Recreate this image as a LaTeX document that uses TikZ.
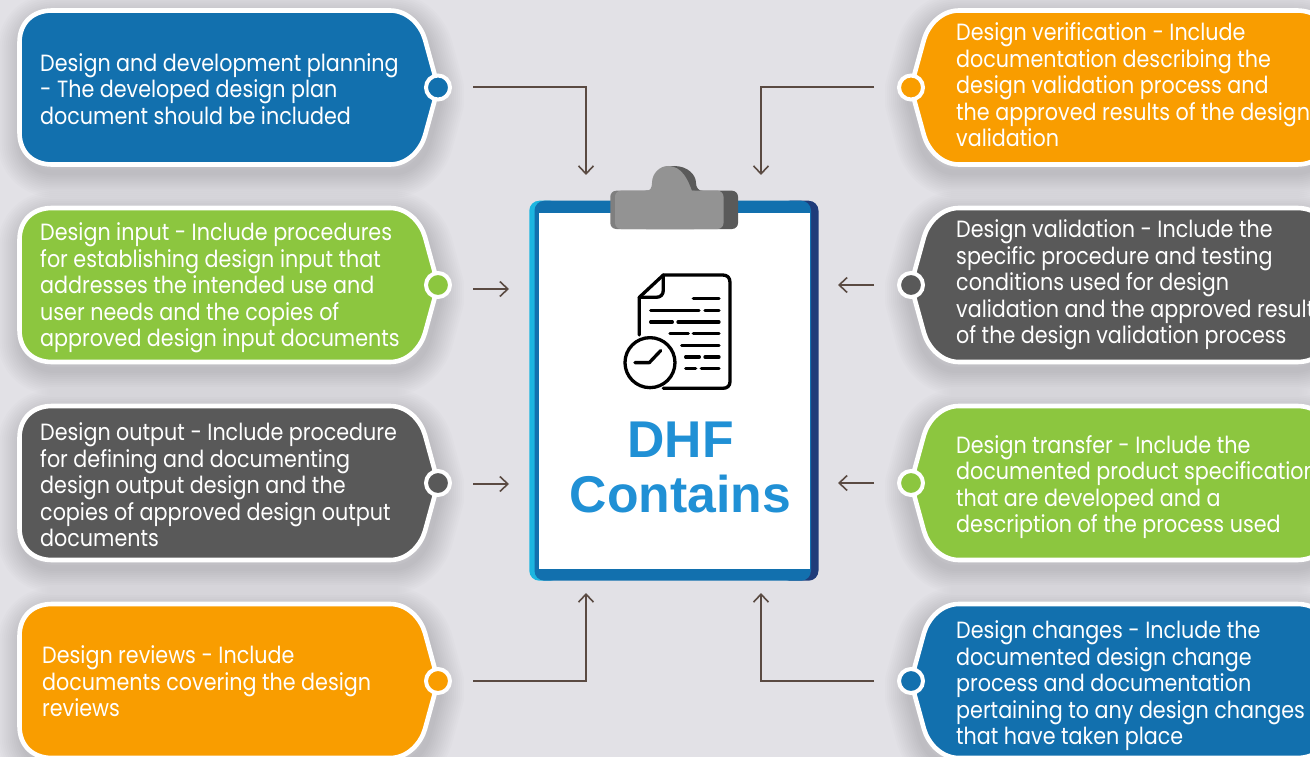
\documentclass[tikz,border=0pt]{standalone}
\usepackage{fontspec}
\setmainfont{Poppins}[FakeStretch=0.88]
\newfontfamily\headfont{Liberation Sans}
\usetikzlibrary{arrows.meta}
\definecolor{bgc}{HTML}{E2E1E6}
\definecolor{tagblue}{HTML}{1270AE}
\definecolor{taggreen}{HTML}{8CC63F}
\definecolor{taggrey}{HTML}{595959}
\definecolor{tagorange}{HTML}{F99D00}
\definecolor{linkc}{HTML}{5A4A42}
\definecolor{clipcyan}{HTML}{1CB5E0}
\definecolor{clipdark}{HTML}{1F3C7A}
\definecolor{gripl}{HTML}{939393}
\definecolor{gripm}{HTML}{7F7F7F}
\definecolor{gripd}{HTML}{5A5A5A}
\definecolor{headc}{HTML}{2090D5}
\newcommand\tagpath{(-418.5,-45) .. controls (-418.5,-65) and (-405,-77) .. (-386,-77) -- (-48,-77) .. controls (-30,-77) and (-17,-62) .. (-13,-48) -- (-2,-8) -- (-2,8) -- (-13,48) .. controls (-17,62) and (-30,77) .. (-48,77) -- (-386,77) .. controls (-405,77) and (-418.5,65) .. (-418.5,45) -- cycle}
\newcommand\tagbox[5]{%
  \begin{scope}[shift={(#2,#3)},xscale=#4]
    \begin{scope}[shift={(3,8)}]
      \foreach \w in {50,46,42,38,34,30,26,22,18,14,10,6}{
        \draw[black,opacity=.011,line width=\w pt,line join=round] \tagpath;
      }
    \end{scope}
    \draw[tagedge,fill=#5] \tagpath;
    \node[tagdot,fill=#5] (#1) at (0,0) {};
  \end{scope}}
\tikzset{
  x=1pt,y=-1pt,
  tagedge/.style={draw=white,line width=4.6pt,line join=round},
  tagdot/.style={circle,draw=white,line width=4pt,minimum size=24pt,inner sep=0pt},
  tagtext/.style={text=white,anchor=west,align=left,inner sep=0pt,font=\fontsize{23.5}{26.5}\selectfont},
  link/.style={draw=linkc,line width=1.6pt,-{Straight Barb[length=8pt,width=15pt,line width=1.6pt]}},
  docline/.style={line width=3.3pt,line cap=round,line join=round,draw=black},
}
\begin{document}
\begin{tikzpicture}
\useasboundingbox (0,0) rectangle (1310,757);
\clip (0,0) rectangle (1310,757);
\fill[bgc] (0,0) rectangle (1310,757);

% tags
\tagbox{dotA}{438}{87.5}{1}{tagblue}
\tagbox{dotB}{438}{285}{1}{taggreen}
\tagbox{dotC}{438}{483}{1}{taggrey}
\tagbox{dotD}{438}{681}{1}{tagorange}
\tagbox{dotE}{911}{87.5}{-1}{tagorange}
\tagbox{dotF}{911}{285}{-1}{taggrey}
\tagbox{dotG}{911}{483}{-1}{taggreen}
\tagbox{dotH}{911}{681}{-1}{tagblue}

% tag texts
\node[tagtext] (txtA) at (40,89) {Design and development planning\\- The developed design plan\\document should be included};
\node[tagtext] (txtB) at (40,288) {Design input - Include procedures\\for establishing design input that\\addresses the intended use and\\user needs and the copies of\\approved design input documents};
\node[tagtext] (txtC) at (40,485) {Design output - Include procedure\\for defining and documenting\\design output design and the\\copies of approved design output\\documents};
\node[tagtext] (txtD) at (42,681.5) {Design reviews - Include\\documents covering the design\\reviews};
\node[tagtext] (txtE) at (956,85) {Design verification - Include\\documentation describing the\\design validation process and\\the approved results of the design\\validation};
\node[tagtext] (txtF) at (956,285) {Design validation - Include the\\specific procedure and testing\\conditions used for design\\validation and the approved results\\of the design validation process};
\node[tagtext] (txtG) at (956,487) {Design transfer - Include the\\documented product specifications\\that are developed and a\\description of the process used};
\node[tagtext] (txtH) at (956,686) {Design changes - Include the\\documented design change\\process and documentation\\pertaining to any design changes\\that have taken place};

% clipboard
\fill[clipcyan,rounded corners=10pt] (529.3,200.7) rectangle (560,580.7);
\fill[clipdark,rounded corners=10pt] (780,200.7) rectangle (818.5,580.7);
\fill[tagblue,rounded corners=10pt] (534.5,200.7) rectangle (811,580.7);
\node[fill=white,inner sep=0pt,minimum width=271pt,minimum height=356.3pt,anchor=north west] (sheet) at (539,212.7) {};

% clip grip
\fill[gripd,rounded corners=6pt] (640,190.7) rectangle (738,229);
\fill[gripd] (652,191) .. controls (652,175) and (660,166) .. (674,166) .. controls (688,166) and (696,175) .. (696,183) .. controls (696,188) and (699,191) .. (703,191) -- cycle;
\fill[gripm,rounded corners=6pt] (610.3,190.7) rectangle (700,229);
\fill[gripl,rounded corners=6pt] (615,190.7) rectangle (723.5,229);
\fill[gripl] (646,191) .. controls (650,191) and (652,188) .. (652,183) .. controls (652,173) and (660,166) .. (668,166) .. controls (682,166) and (688,180) .. (692,191) -- cycle;

% document icon
\begin{scope}[shift={(520,150)},x=.3333pt,y=-.3333pt]
  \draw[docline] (358,555) -- (358,442) -- (430,375) -- (608,375) .. controls (622,375) and (630,383) .. (630,397) -- (630,695) .. controls (630,708) and (622,715) .. (608,715) -- (430,715);
  \draw[docline] (358,442) -- (408,442) .. controls (422,442) and (430,434) .. (430,420) -- (430,375);
  \draw[docline] (520,446) -- (597,446);
  \draw[docline] (392,481) -- (537,481) (555,481) -- (597,481);
  \draw[docline] (392,516) -- (457,516) (474,516) -- (597,516);
  \draw[docline] (450,551) -- (505,551) (520,551) -- (597,551);
  \draw[docline] (485,586) -- (597,586);
  \draw[docline] (497,621) -- (538,621) (555,621) -- (597,621);
  \draw[docline] (497,656) -- (527,656) (544,656) -- (597,656);
  \draw[docline,fill=white] (390,638) circle[radius=75];
  \draw[docline] (345,638) -- (388,638) -- (422,602);
\end{scope}

% heading
\node[text=headc,font=\headfont\bfseries\fontsize{51.7}{55}\selectfont,align=center,inner sep=0pt] (head) at (680.5,467) {DHF\\Contains};

% connectors
\coordinate (sA) at (473,87);   \coordinate (eA) at (586,175);
\coordinate (sE) at (874,87);   \coordinate (eE) at (761,175);
\coordinate (sB) at (473,289);  \coordinate (eB) at (509,289);
\coordinate (sF) at (874,285);  \coordinate (eF) at (838,285);
\coordinate (sC) at (473,484);  \coordinate (eC) at (509,484);
\coordinate (sG) at (874,483);  \coordinate (eG) at (838,483);
\coordinate (sD) at (473,681);  \coordinate (eD) at (586,593);
\coordinate (sH) at (874,681);  \coordinate (eH) at (761,593);
\draw[link] (sA) -| (eA);
\draw[link] (sE) -| (eE);
\draw[link] (sD) -| (eD);
\draw[link] (sH) -| (eH);
\draw[link] (sB) -- (eB);
\draw[link] (sF) -- (eF);
\draw[link] (sC) -- (eC);
\draw[link] (sG) -- (eG);
\end{tikzpicture}
\end{document}
